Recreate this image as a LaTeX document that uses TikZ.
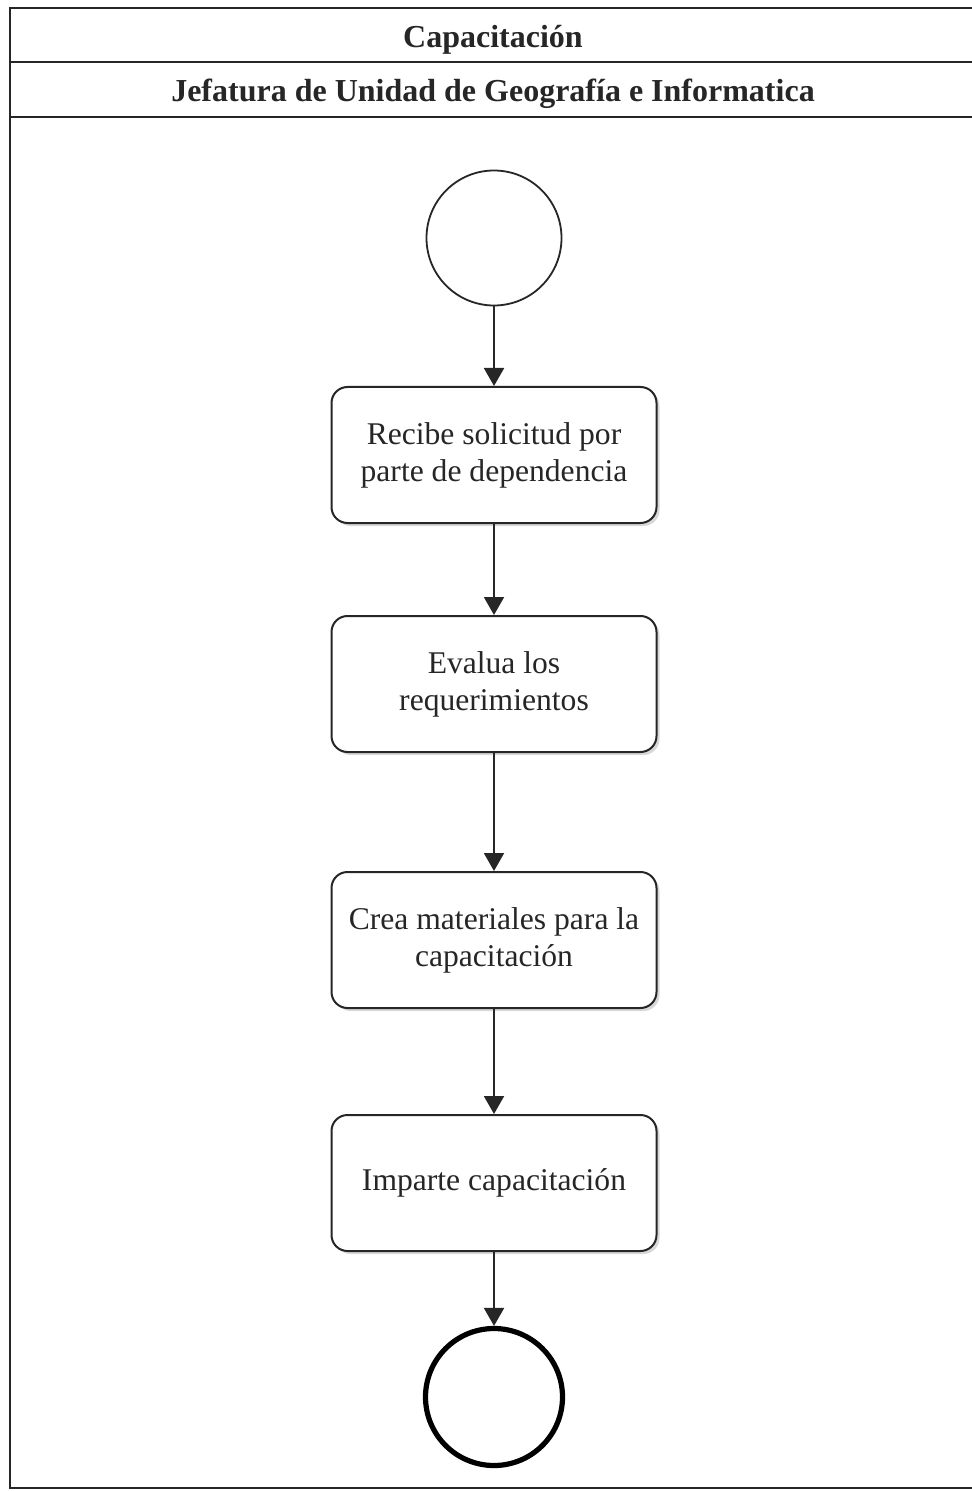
\documentclass[tikz,border=0pt]{standalone}
\usepackage{fontspec}
\setmainfont{Liberation Serif}
\usetikzlibrary{arrows.meta,shadows}
\begin{document}
\begin{tikzpicture}[x=0.5pt,y=-0.5pt,
  frame/.style={line width=1.1pt,draw=black!85},
  actbox/.style={draw=black!85,line width=1pt,rounded corners=8pt,fill=white,
    minimum width=162.5pt,minimum height=68pt,align=center,inner sep=2pt,
    font=\fontsize{15.8}{18.5}\selectfont,text=black!85,
    drop shadow={shadow xshift=1.5pt,shadow yshift=-1.5pt,fill=black!25,opacity=0.6}},
  startnode/.style={circle,draw=black!85,line width=0.9pt,minimum size=67.5pt,inner sep=0pt,fill=white},
  endnode/.style={circle,draw=black,line width=2.6pt,minimum size=68.5pt,inner sep=0pt,fill=white},
  flow/.style={draw=black!85,line width=1pt,-{Triangle[length=9pt,width=10pt]}},
  hdr/.style={font=\bfseries\fontsize{16}{18}\selectfont,text=black!85}]
\useasboundingbox (0,0) rectangle (972,1491);
\fill[white] (0,0) rectangle (972,1491);
% frame and header
\draw[frame] (990,8) -- (10,8) -- (10,1488) -- (990,1488);
\draw[frame] (10,62) -- (990,62);
\draw[frame] (10,117) -- (990,117);
\node[hdr] (title) at (493,40) {Capacitación};
\node[hdr] (lane) at (493,94) {Jefatura de Unidad de Geografía e Informatica};
% nodes
\node[startnode] (start) at (494,238) {};
\node[actbox] (a1) at (494,455) {Recibe solicitud por\\parte de dependencia};
\node[actbox] (a2) at (494,684) {Evalua los\\requerimientos};
\node[actbox] (a3) at (494,940) {Crea materiales para la\\capacitación};
\node[actbox] (a4) at (494,1183) {Imparte capacitación};
\node[endnode] (end) at (494,1397) {};
% connectors
\draw[flow] (start) -- (a1);
\draw[flow] (a1) -- (a2);
\draw[flow] (a2) -- (a3);
\draw[flow] (a3) -- (a4);
\draw[flow] (a4) -- (end);
\end{tikzpicture}
\end{document}
